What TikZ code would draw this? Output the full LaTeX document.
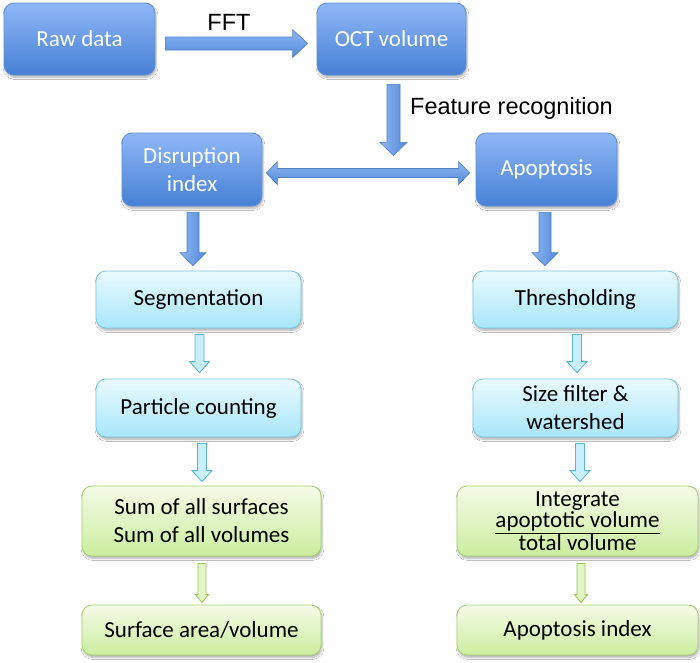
\documentclass[tikz,border=0pt]{standalone}
\usepackage{fontspec}
\setmainfont{Carlito}
\newfontfamily\arialfont{Liberation Sans}
\usetikzlibrary{calc,shadows.blur}
\definecolor{dbTop}{RGB}{143,183,246}
\definecolor{dbBot}{RGB}{70,128,213}
\definecolor{dbLine}{RGB}{96,144,218}
\definecolor{cyTop}{RGB}{234,250,254}
\definecolor{cyBot}{RGB}{168,230,250}
\definecolor{cyLine}{RGB}{120,198,226}
\definecolor{grTop}{RGB}{244,251,232}
\definecolor{grBot}{RGB}{204,237,158}
\definecolor{grLine}{RGB}{166,210,112}
\definecolor{baL}{RGB}{140,182,243}
\definecolor{baR}{RGB}{84,138,218}
\definecolor{baLine}{RGB}{79,129,200}
\definecolor{caFill}{RGB}{200,239,251}
\definecolor{caLine}{RGB}{88,180,216}
\definecolor{gaFill}{RGB}{228,245,200}
\definecolor{gaLine}{RGB}{150,200,90}
\newcommand{\vblock}[6]{%
\path[#1] let \p1=#2, \p2=#3 in (\x1-#4pt,\y1) -- (\x1+#4pt,\y1) -- (\x1+#4pt,\y2+#6pt) -- (\x1+#5pt,\y2+#6pt) -- (\x1,\y2) -- (\x1-#5pt,\y2+#6pt) -- (\x1-#4pt,\y2+#6pt) -- cycle;}
\newcommand{\hblock}[6]{%
\path[#1] let \p1=#2, \p2=#3 in (\x1,\y1-#4pt) -- (\x2-#6pt,\y1-#4pt) -- (\x2-#6pt,\y1-#5pt) -- (\x2,\y1) -- (\x2-#6pt,\y1+#5pt) -- (\x2-#6pt,\y1+#4pt) -- (\x1,\y1+#4pt) -- cycle;}
\newcommand{\dblock}[6]{%
\path[#1] let \p1=#2, \p2=#3 in (\x1,\y1) -- (\x1+#6pt,\y1+#5pt) -- (\x1+#6pt,\y1+#4pt) -- (\x2-#6pt,\y1+#4pt) -- (\x2-#6pt,\y1+#5pt) -- (\x2,\y1) -- (\x2-#6pt,\y1-#5pt) -- (\x2-#6pt,\y1-#4pt) -- (\x1+#6pt,\y1-#4pt) -- (\x1+#6pt,\y1-#5pt) -- cycle;}
\tikzset{
  boxbase/.style={rounded corners=10pt, inner sep=0pt, align=center, line width=0.8pt,
    font=\fontsize{23}{28}\selectfont,
    blur shadow={shadow xshift=1pt, shadow yshift=-2.5pt, shadow opacity=30, shadow blur steps=6}},
  darkbox/.style={boxbase, draw=dbLine, top color=dbTop, bottom color=dbBot, text=white},
  cyanbox/.style={boxbase, draw=cyLine, top color=cyTop, bottom color=cyBot, text=black},
  greenbox/.style={boxbase, draw=grLine, top color=grTop, bottom color=grBot, text=black},
  bluearrow/.style={draw=baLine, line width=0.6pt, left color=baL, right color=baR},
  bluearrowh/.style={draw=baLine, line width=0.6pt, top color=baL, bottom color=baR},
  cyanarrow/.style={draw=caLine, line width=0.8pt, fill=caFill},
  greenarrow/.style={draw=gaLine, line width=0.8pt, fill=gaFill},
  lbl/.style={font=\arialfont\fontsize{23.5}{28}\selectfont, inner sep=0pt, text=black}
}
\begin{document}
\begin{tikzpicture}[x=1pt,y=-1pt]
\useasboundingbox[fill=white] (0,0) rectangle (700,662);
% boxes
\node[darkbox, minimum width=151pt, minimum height=72pt] (raw) at (79.5,39) {Raw data};
\node[darkbox, minimum width=149pt, minimum height=72pt] (oct) at (391.5,39) {OCT volume};
\node[darkbox, minimum width=140pt, minimum height=73pt] (dis) at (192,169.5) {Disruption\\index};
\node[darkbox, minimum width=141pt, minimum height=73pt] (apo) at (546.5,169.5) {Apoptosis};
\node[cyanbox, minimum width=205pt, minimum height=57pt] (seg) at (198.5,299.5) {Segmentation};
\node[cyanbox, minimum width=205pt, minimum height=58pt] (part) at (198.5,408) {Particle counting};
\node[cyanbox, minimum width=205pt, minimum height=57pt] (thr) at (575.5,299.5) {Thresholding};
\node[cyanbox, minimum width=205pt, minimum height=58pt] (size) at (575.5,408) {Size filter \&\\watershed};
\node[greenbox, minimum width=239pt, minimum height=70pt] (sum) at (201.5,521) {Sum of all surfaces\\Sum of all volumes};
\node[greenbox, minimum width=239pt, minimum height=50pt] (surf) at (201.5,630) {Surface area/volume};
\node[greenbox, minimum width=241pt, minimum height=70pt, font=\fontsize{23}{21.5}\selectfont] (integ) at (577.5,521) {Integrate\\\underline{apoptotic volume}\\total volume};
\node[greenbox, minimum width=241pt, minimum height=50pt] (apoidx) at (577.5,630) {Apoptosis index};
% labels
\node[lbl] (fftlbl) at (229,22) {FFT};
\node[lbl, anchor=west] (featlbl) at (410,108) {Feature recognition};
% blue block arrows
\hblock{bluearrowh}{($(raw.east)+(10,4.5)$)}{($(oct.west)+(-9,4.5)$)}{6.5}{14}{15}
\vblock{bluearrow}{($(oct.south)+(2,9)$)}{($(oct.south)+(2,80)$)}{6.5}{13.5}{13}
\dblock{bluearrowh}{($(dis.east)+(4,3.5)$)}{($(apo.west)+(-6,3.5)$)}{4.5}{11.5}{11}
\vblock{bluearrow}{($(dis.south)+(1,6)$)}{($(seg.north)+(0,-5)$)}{6}{13}{13}
\vblock{bluearrow}{($(apo.south)+(-1.5,6)$)}{($(thr.north)+(0,-5)$)}{6}{13}{13}
% cyan arrows
\vblock{cyanarrow}{($(seg.south)+(1,6)$)}{($(part.north)+(0,-6)$)}{4.5}{10}{11}
\vblock{cyanarrow}{($(part.south)+(3.5,6)$)}{($(sum.north)+(0,-4)$)}{4.5}{10}{11}
\vblock{cyanarrow}{($(thr.south)+(1.5,6)$)}{($(size.north)+(0,-6)$)}{4.5}{10}{11}
\vblock{cyanarrow}{($(size.south)+(4.5,6)$)}{($(integ.north)+(0,-4)$)}{4.5}{10}{11}
% green arrows
\vblock{greenarrow}{($(sum.south)+(0.5,7)$)}{($(surf.north)+(0,-2)$)}{4}{6.5}{8}
\vblock{greenarrow}{($(integ.south)+(3.5,7)$)}{($(apoidx.north)+(0,-2)$)}{4}{6.5}{8}
\end{tikzpicture}
\end{document}
